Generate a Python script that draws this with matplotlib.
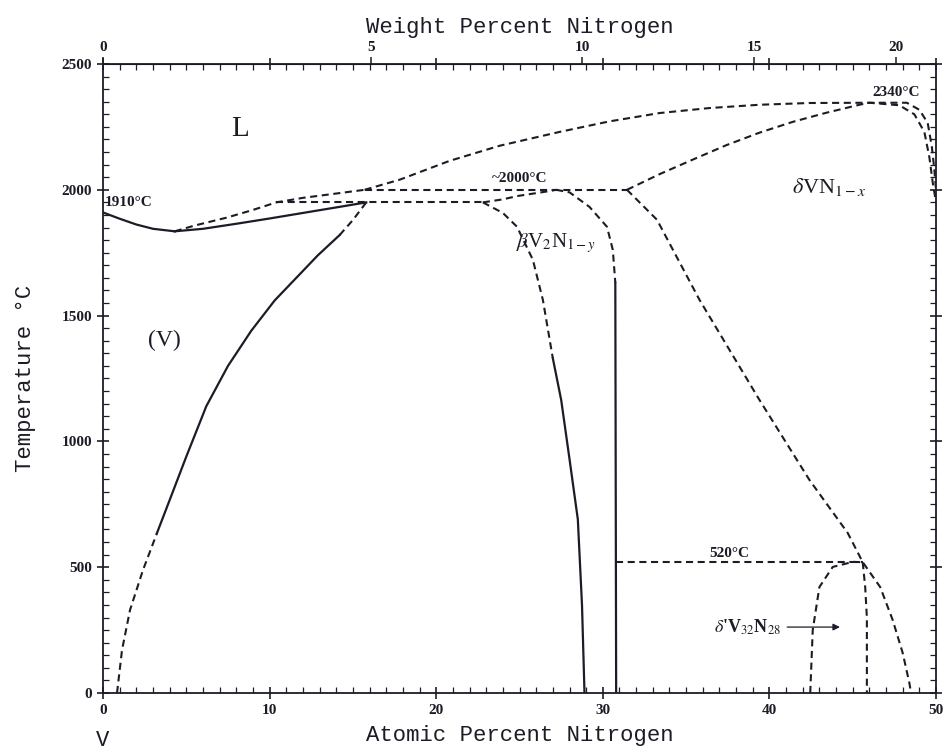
import matplotlib
matplotlib.use('Agg')
import matplotlib.pyplot as plt
import numpy as np
from matplotlib.ticker import MultipleLocator

plt.rcParams['mathtext.fontset'] = 'stix'

INK = '#1c1c26'
M_N = 14.007
M_V = 50.9415

# phase boundaries: atomic percent N, temperature in degC
# (V) liquidus/solidus from the melting point of V down to the minimum
v_melt_x = [0, 1, 2, 3, 4.3]
v_melt_t = [1910, 1885, 1862, 1845, 1835]
# (V) solidus above the minimum
v_solidus_x = [4.3, 6, 8, 10, 12, 14, 15.8]
v_solidus_t = [1835, 1845, 1865, 1886, 1908, 1930, 1950]
# liquidus from the minimum up to the ~2000 C peritectic
liq_low_x = [4.3, 5.5, 7.4, 9, 10.4, 12, 13.4, 15.7]
liq_low_t = [1835, 1858, 1889, 1920, 1950, 1968, 1980, 2000]
# liquidus of delta VN up to its congruent maximum
liq_delta_x = [15.7, 17.8, 20.8, 23.8, 27.4, 30.4, 33.4, 36.4, 39.4, 42.4, 46.0, 48.25, 49.0, 49.5, 49.75, 49.9, 50.0]
liq_delta_t = [2000, 2040, 2115, 2175, 2230, 2272, 2305, 2325, 2338, 2345, 2346, 2346, 2318, 2266, 2171, 2080, 2000]
# solidus of delta VN
sol_delta_x = [31.45, 33.4, 35.4, 37.4, 39.4, 41.4, 43.4, 45.4, 46.0, 47.8, 48.7, 49.3, 49.6, 49.8, 50.0]
sol_delta_t = [2000, 2062, 2120, 2177, 2227, 2270, 2306, 2338, 2346, 2336, 2300, 2230, 2130, 2030, 1950]
# (V) solvus: dashed / solid / dashed parts
v_solvus_low_x = [0.84, 1.14, 1.62, 2.4, 3.24]
v_solvus_low_t = [0, 171, 330, 489, 636]
v_solvus_mid_x = [3.24, 4.0, 5.0, 6.2, 7.5, 8.9, 10.3, 11.6, 12.9, 14.2]
v_solvus_mid_t = [636, 767, 940, 1140, 1300, 1440, 1560, 1650, 1740, 1820]
v_solvus_top_x = [14.2, 15.0, 15.8]
v_solvus_top_t = [1820, 1880, 1950]
# beta V2N1-y boundaries
beta_top_x = [22.8, 24.0, 24.85, 26.8, 27.2]
beta_top_t = [1950, 1962, 1975, 1995, 2000]
beta_left_dash_x = [22.8, 24.0, 24.85, 25.8, 26.4, 27.0]
beta_left_dash_t = [1950, 1908, 1853, 1722, 1563, 1330]
beta_left_solid_x = [27.0, 27.5, 28.0, 28.5, 28.75, 28.9]
beta_left_solid_t = [1330, 1165, 930, 690, 350, 0]
beta_right_dash_x = [27.2, 28.0, 29.2, 30.25, 30.6, 30.75]
beta_right_dash_t = [2000, 1990, 1932, 1853, 1761, 1630]
beta_right_solid_x = [30.75, 30.8]
beta_right_solid_t = [1630, 0]
# delta VN1-x lower boundary
delta_left_x = [31.45, 33.25, 35.8, 39.4, 42.4, 44.7, 45.6, 46.65, 47.4, 48.0, 48.4, 48.5]
delta_left_t = [2000, 1881, 1563, 1165, 847, 636, 520, 421, 290, 159, 40, 0]
# delta' V32N28 dome
dprime_left_x = [42.45, 42.6, 43.0, 43.8, 45.0, 45.6]
dprime_left_t = [0, 250, 421, 501, 521, 520]
dprime_right_x = [45.6, 45.75, 45.85, 45.85]
dprime_right_t = [520, 420, 300, 0]
# invariant lines (x start, x end, temperature)
iso_lines = [(15.7, 31.45, 2000), (10.4, 22.8, 1950), (30.8, 45.6, 520)]

wt_ticks = [0, 5, 10, 15, 20]


def at_to_wt(a):
    a = np.clip(np.asarray(a, float), 0, 99.9)
    return 100 * a * M_N / (a * M_N + (100 - a) * M_V)


def wt_to_at(w):
    w = np.clip(np.asarray(w, float), 0, 99.9)
    return 100 * (w / M_N) / (w / M_N + (100 - w) / M_V)


fig = plt.figure(figsize=(9.47, 7.53), dpi=100)
ax = fig.add_axes([0.1088, 0.0797, 0.8796, 0.8353])
ax.set_xlim(0, 50)
ax.set_ylim(0, 2500)

dash = dict(color=INK, lw=1.5, ls=(0, (3.4, 2.2)))
solid = dict(color=INK, lw=1.6)

ax.plot(v_melt_x, v_melt_t, **solid)
ax.plot(v_solidus_x, v_solidus_t, **solid)
ax.plot(liq_low_x, liq_low_t, **dash)
ax.plot(liq_delta_x, liq_delta_t, **dash)
ax.plot(sol_delta_x, sol_delta_t, **dash)
ax.plot(v_solvus_low_x, v_solvus_low_t, **dash)
ax.plot(v_solvus_mid_x, v_solvus_mid_t, **solid)
ax.plot(v_solvus_top_x, v_solvus_top_t, **dash)
ax.plot(beta_top_x, beta_top_t, **dash)
ax.plot(beta_left_dash_x, beta_left_dash_t, **dash)
ax.plot(beta_left_solid_x, beta_left_solid_t, **solid)
ax.plot(beta_right_dash_x, beta_right_dash_t, **dash)
ax.plot(beta_right_solid_x, beta_right_solid_t, **solid)
ax.plot(delta_left_x, delta_left_t, **dash)
ax.plot(dprime_left_x, dprime_left_t, **dash)
ax.plot(dprime_right_x, dprime_right_t, **dash)
for x0, x1, t in iso_lines:
    ax.plot([x0, x1], [t, t], **dash)

# labels inside the diagram
serif = 'Liberation Serif'
ax.text(8.2, 2240, 'L', fontsize=21, family=serif, color=INK, ha='center', va='center')
ax.text(3.7, 1400, '(V)', fontsize=17, family=serif, color=INK, ha='center', va='center')
ax.text(0.1, 1950, '1910°C', fontsize=11, family=serif, weight='bold', color=INK, ha='left', va='center')
ax.text(25.0, 2045, '~2000°C', fontsize=11, family=serif, weight='bold', color=INK, ha='center', va='center')
ax.text(47.6, 2385, '2340°C', fontsize=11, family=serif, weight='bold', color=INK, ha='center', va='center')
ax.text(37.6, 555, '520°C', fontsize=11, family=serif, weight='bold', color=INK, ha='center', va='center')
ax.text(27.2, 1790, r'$\beta$V$_2$N$_{1-y}$', fontsize=15, family=serif, color=INK, ha='center', va='center')
ax.text(43.6, 2010, r'$\delta$VN$_{1-x}$', fontsize=16, family=serif, color=INK, ha='center', va='center')
ax.text(38.7, 262, r"$\delta$'V$_{32}$N$_{28}$", fontsize=13, family=serif, weight='bold', color=INK,
        ha='center', va='center')
ax.annotate('', xy=(44.4, 262), xytext=(40.9, 262),
            arrowprops=dict(arrowstyle='-|>', color=INK, lw=0.9, mutation_scale=10))

# axes styling
for s in ax.spines.values():
    s.set_linewidth(1.3)
    s.set_color(INK)
ax.xaxis.set_major_locator(MultipleLocator(10))
ax.xaxis.set_minor_locator(MultipleLocator(1))
ax.yaxis.set_major_locator(MultipleLocator(500))
ax.yaxis.set_minor_locator(MultipleLocator(50))
ax.tick_params(which='both', top=True, right=True, colors=INK)
ax.tick_params(which='major', direction='inout', length=9, width=1.2)
ax.tick_params(which='minor', direction='in', length=4, width=0.9)
for lab in ax.get_xticklabels() + ax.get_yticklabels():
    lab.set_family(serif)
    lab.set_fontweight('bold')
    lab.set_fontsize(11)

top = ax.secondary_xaxis('top', functions=(at_to_wt, wt_to_at))
top.set_xticks(wt_ticks)
top.tick_params(direction='out', length=5, width=1.1, colors=INK, pad=2)
for lab in top.get_xticklabels():
    lab.set_family(serif)
    lab.set_fontweight('bold')
    lab.set_fontsize(11)

mono = 'Liberation Mono'
top.set_xlabel('Weight Percent Nitrogen', family=mono, fontsize=16, color=INK, labelpad=6)
ax.set_xlabel('Atomic Percent Nitrogen', family=mono, fontsize=16, color=INK, labelpad=6)
ax.set_ylabel('Temperature °C', family=mono, fontsize=16, color=INK, labelpad=18)
ax.text(0, -0.075, 'V', transform=ax.transAxes, family=mono, fontsize=16, color=INK, ha='center', va='center')

fig.savefig('out.png', dpi=100)
